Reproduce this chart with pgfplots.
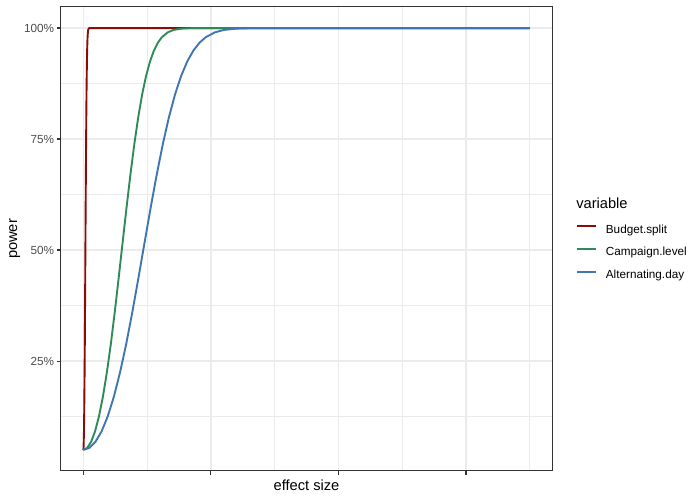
\documentclass[border=0pt]{standalone}
\usepackage{pgfplots}
\pgfplotsset{compat=1.18}
\usepackage{pgfplotstable}
\usepackage{fontspec}
\setmainfont{Liberation Sans}
\definecolor{cRed}{HTML}{8B0A0A}
\definecolor{cGreen}{HTML}{2E8B57}
\definecolor{cBlue}{HTML}{3F75B3}
\definecolor{grid92}{HTML}{EBEBEB}
\definecolor{grey20}{HTML}{333333}
\definecolor{grey30}{HTML}{4D4D4D}

\pgfplotstableread{
x y
0 5.00
0.0017 5.46
0.0033 6.85
0.0050 9.21
0.0067 12.59
0.0083 17.00
0.0100 22.44
0.0117 28.77
0.0133 35.94
0.0150 43.64
0.0163 50.00
0.0183 59.48
0.0200 67.00
0.0217 73.89
0.0233 79.95
0.0250 85.08
0.0267 89.25
0.0283 92.51
0.0300 94.95
0.0317 96.71
0.0333 97.93
0.0358 99.04
0.0383 99.59
0.0417 99.88
0.0458 99.98
0.0500 100.00
3.5 100
}\budget

\pgfplotstableread{
x y
0 5.00
0.0308 5.46
0.0615 6.85
0.0923 9.21
0.1231 12.59
0.1538 17.00
0.1846 22.44
0.2154 28.77
0.2462 35.94
0.2769 43.64
0.3015 50.00
0.3385 59.48
0.3692 67.00
0.4000 73.89
0.4308 79.95
0.4615 85.08
0.4923 89.25
0.5231 92.51
0.5538 94.95
0.5846 96.71
0.6154 97.93
0.6615 99.04
0.7077 99.59
0.7692 99.88
0.8462 99.98
0.9231 100.00
3.5 100
}\campaign

\pgfplotstableread{
x y
0 5.00
0.0480 5.46
0.0959 6.85
0.1439 9.21
0.1918 12.59
0.2398 17.00
0.2878 22.44
0.3357 28.77
0.3837 35.94
0.4317 43.64
0.4700 50.00
0.5276 59.48
0.5755 67.00
0.6235 73.89
0.6715 79.95
0.7194 85.08
0.7674 89.25
0.8153 92.51
0.8633 94.95
0.9113 96.71
0.9592 97.93
1.0312 99.04
1.1031 99.59
1.1990 99.88
1.3190 99.98
1.4388 100.00
3.5 100
}\alternating

\begin{document}
\begin{tikzpicture}
\begin{axis}[
  at={(45.75pt,21.75pt)}, anchor=south west,
  scale only axis, width=368.25pt, height=348pt,
  xmin=-0.175, xmax=3.675, ymin=0.25, ymax=104.75,
  clip mode=individual,
  xtick={0,1,2,3}, xticklabels={},
  minor xtick={0.5,1.5,2.5,3.5},
  ytick={25,50,75,100}, yticklabels={25\%,50\%,75\%,100\%},
  minor ytick={12.5,37.5,62.5,87.5},
  grid=both,
  major grid style={grid92, line width=1.1pt},
  minor grid style={grid92, line width=0.55pt},
  tick align=outside, major tick length=2.75pt, minor tick length=0pt,
  xtick pos=bottom, ytick pos=left,
  tick style={grey20, line width=0.9pt},
  axis line style={grey20, line width=0.75pt},
  /pgf/number format/assume math mode=true,
  ticklabel style={font=\fontsize{8.8}{10}\selectfont, text=grey30},
  yticklabel style={inner sep=0pt, anchor=east, xshift=-2.2pt},
  xlabel={effect size}, ylabel={power},
  label style={font=\fontsize{11}{13}\selectfont},
  xlabel style={at={(axis description cs:0.5,-0.0302)}, anchor=center},
  ylabel style={at={(axis description cs:-0.0944,0.5)}, anchor=center, rotate=0},
  legend cell align=left,
  legend style={at={(axis description cs:1.0489,0.5309)}, anchor=north west,
    draw=none, fill=none, inner sep=0pt, outer sep=0pt,
    font=\fontsize{8.8}{10}\selectfont,
    nodes={inner sep=0pt, text height=6.5pt, text depth=2pt},
    row sep=8.5pt, column sep=6.75pt},
  legend image code/.code={\draw[#1, line width=1.42pt] (0pt,3pt) -- (14.25pt,3pt);},
  every axis plot/.append style={line width=1.42pt, line join=round},
]
\addplot[cRed, no marks] table[x=x,y=y] {\budget};
\addlegendentry{Budget.split}
\addplot[cGreen, no marks] table[x=x,y=y] {\campaign};
\addlegendentry{Campaign.level}
\addplot[cBlue, no marks] table[x=x,y=y] {\alternating};
\addlegendentry{Alternating.day}
\node[anchor=west, inner sep=0pt, font=\fontsize{11}{13}\selectfont] at (axis description cs:1.0489,0.5776) {variable};
\end{axis}
\pgfresetboundingbox
\useasboundingbox (0,0) rectangle (525pt,375pt);
\end{tikzpicture}
\end{document}
